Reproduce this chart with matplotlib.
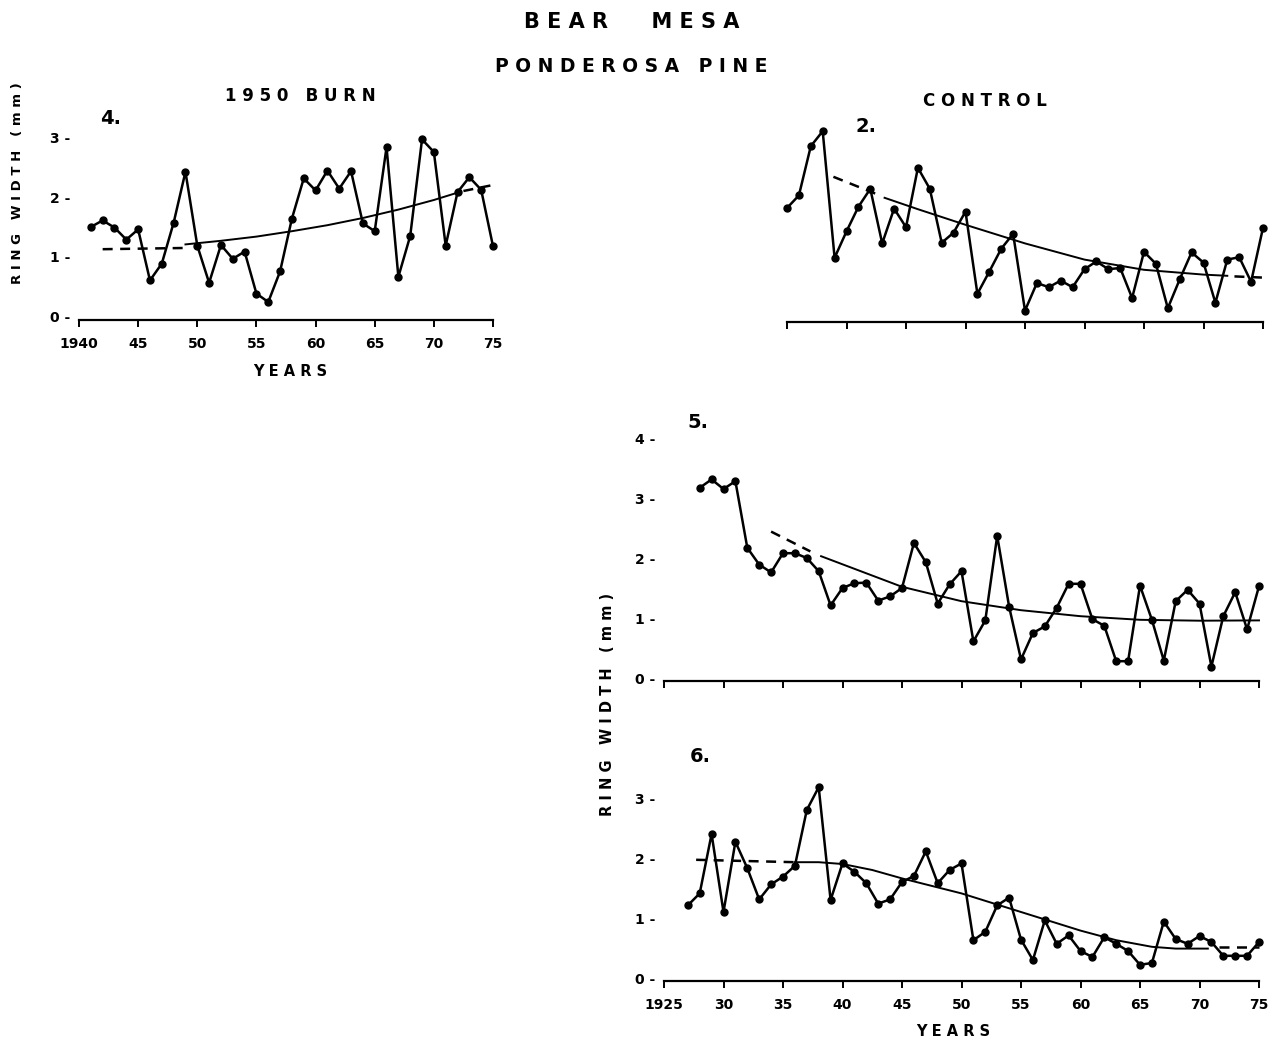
import matplotlib
matplotlib.use('Agg')
import matplotlib.pyplot as plt
import numpy as np

W, H = 1271, 1041

# panel 4: 1950 burn
burn_years = list(range(1941, 1976))
burn_width = [1.50, 1.61, 1.49, 1.29, 1.46, 0.61, 0.89, 1.57, 2.42, 1.19,
              0.57, 1.20, 0.97, 1.09, 0.39, 0.25, 0.76, 1.64, 2.31, 2.11,
              2.44, 2.14, 2.43, 1.56, 1.43, 2.83, 0.67, 1.35, 2.96, 2.75,
              1.19, 2.08, 2.33, 2.12, 1.18]
burn_fit_years = [1949, 1952, 1955, 1958, 1961, 1964, 1967, 1970, 1971.8]
burn_fit = [1.21, 1.27, 1.34, 1.43, 1.53, 1.65, 1.79, 1.95, 2.06]
burn_dash = [([1942, 1948.8], [1.13, 1.15]), ([1972.5, 1975], [2.10, 2.20])]

# panel 2: control
ctrl_years = list(range(1935, 1976))
ctrl_width = [1.85, 2.06, 2.88, 3.13, 1.02, 1.46, 1.87, 2.17, 1.26, 1.84,
              1.53, 2.52, 2.17, 1.27, 1.44, 1.79, 0.42, 0.79, 1.17, 1.42,
              0.14, 0.60, 0.53, 0.64, 0.53, 0.83, 0.96, 0.83, 0.85, 0.35,
              1.12, 0.92, 0.18, 0.66, 1.11, 0.94, 0.27, 0.99, 1.03, 0.62,
              1.52]
ctrl_fit_years = [1943.2, 1946, 1950, 1955, 1960, 1965, 1970, 1972]
ctrl_fit = [2.02, 1.83, 1.57, 1.26, 0.99, 0.82, 0.74, 0.72]
ctrl_dash = [([1938.9, 1942.8], [2.37, 2.06]), ([1972.6, 1975], [0.71, 0.69])]

# panel 5
p5_years = list(range(1928, 1976))
p5_width = [3.17, 3.31, 3.15, 3.28, 2.17, 1.89, 1.76, 2.08, 2.08, 2.00,
            1.78, 1.21, 1.50, 1.58, 1.59, 1.29, 1.36, 1.50, 2.25, 1.93,
            1.24, 1.56, 1.78, 0.61, 0.96, 2.37, 1.19, 0.31, 0.75, 0.86,
            1.17, 1.57, 1.57, 0.98, 0.87, 0.28, 0.28, 1.54, 0.97, 0.29,
            1.28, 1.47, 1.24, 0.19, 1.03, 1.43, 0.81, 1.53]
p5_fit_years = [1938.2, 1941, 1945, 1950, 1955, 1960, 1965, 1970, 1975]
p5_fit = [2.03, 1.82, 1.52, 1.28, 1.13, 1.03, 0.97, 0.955, 0.96]
p5_dash = [([1934, 1937.3], [2.44, 2.11])]

# panel 6
p6_years = list(range(1927, 1976))
p6_width = [1.21, 1.41, 2.40, 1.10, 2.27, 1.83, 1.31, 1.56, 1.69, 1.87,
            2.80, 3.18, 1.30, 1.91, 1.77, 1.58, 1.24, 1.31, 1.60, 1.70,
            2.11, 1.58, 1.80, 1.91, 0.63, 0.77, 1.21, 1.34, 0.64, 0.30,
            0.96, 0.57, 0.71, 0.45, 0.35, 0.68, 0.57, 0.45, 0.22, 0.25,
            0.94, 0.65, 0.57, 0.70, 0.60, 0.37, 0.37, 0.37, 0.60]
p6_fit_years = [1936, 1938, 1940, 1942.5, 1945, 1950, 1955, 1960, 1963,
                1966, 1968, 1970.7]
p6_fit = [1.93, 1.93, 1.90, 1.80, 1.66, 1.41, 1.10, 0.79, 0.63, 0.52, 0.49, 0.49]
p6_dash = [([1927.7, 1936.0], [1.97, 1.93]), ([1971.6, 1975], [0.51, 0.51])]

fig = plt.figure(figsize=(W / 100, H / 100), dpi=100)
plt.rcParams['font.family'] = 'DejaVu Sans'
plt.rcParams['font.weight'] = 'bold'


def panel(x0, x1, ytop, ybot, xlim, ylim):
    ax = fig.add_axes([x0 / W, 1 - ybot / H, (x1 - x0) / W, (ybot - ytop) / H])
    ax.set_xlim(xlim)
    ax.set_ylim(ylim)
    for s in ['top', 'right', 'left']:
        ax.spines[s].set_visible(False)
    ax.spines['bottom'].set_linewidth(1.6)
    ax.patch.set_alpha(0)
    ax.tick_params(axis='x', direction='out', length=5, width=1.4, pad=7,
                   labelsize=10)
    ax.tick_params(axis='y', length=0, pad=6.5, labelsize=10)
    return ax


def draw(ax, years, width, fit_years, fit, dashes):
    ax.plot(years, width, 'k-', lw=1.8, marker='o', ms=5, clip_on=False)
    ax.plot(fit_years, fit, 'k-', lw=1.4, clip_on=False)
    for xs, ys in dashes:
        ax.plot(xs, ys, 'k', lw=1.8, ls=(0, (4, 3)), clip_on=False)


def yticks(ax, vals):
    ax.set_yticks(vals)
    ax.set_yticklabels(['%d -' % v for v in vals], fontweight='bold')


ax4 = panel(79, 493, 131, 320, (1940, 1975), (-0.05, 3.1))
draw(ax4, burn_years, burn_width, burn_fit_years, burn_fit, burn_dash)
ax4.set_xticks(range(1940, 1976, 5))
ax4.set_xticklabels(['1940', '45', '50', '55', '60', '65', '70', '75'],
                    fontweight='bold')
yticks(ax4, [0, 1, 2, 3])

ax2 = panel(787, 1263, 127, 322, (1935, 1975), (-0.05, 3.2))
draw(ax2, ctrl_years, ctrl_width, ctrl_fit_years, ctrl_fit, ctrl_dash)
ax2.set_xticks(range(1935, 1976, 5))
ax2.set_xticklabels([])
ax2.set_yticks([])

ax5 = panel(664, 1259, 432, 681, (1925, 1975), (-0.05, 4.1))
draw(ax5, p5_years, p5_width, p5_fit_years, p5_fit, p5_dash)
ax5.set_xticks(range(1925, 1976, 5))
ax5.set_xticklabels([])
yticks(ax5, [0, 1, 2, 3, 4])

ax6 = panel(664, 1259, 780, 981, (1925, 1975), (-0.05, 3.3))
draw(ax6, p6_years, p6_width, p6_fit_years, p6_fit, p6_dash)
ax6.set_xticks(range(1925, 1976, 5))
ax6.set_xticklabels(['1925', '30', '35', '40', '45', '50', '55', '60', '65',
                     '70', '75'], fontweight='bold')
yticks(ax6, [0, 1, 2, 3])


def label(x, y, s, size, rot=0):
    fig.text(x / W, 1 - y / H, s, fontsize=size, fontweight='bold',
             ha='center', va='center', rotation=rot)


label(632, 22, 'B E A R      M E S A', 15)
label(631, 67, 'P O N D E R O S A   P I N E', 13.5)
label(300, 96, '1 9 5 0   B U R N', 12)
label(985, 101, 'C O N T R O L', 12)
label(111, 119, '4.', 14)
label(866, 127, '2.', 14)
label(698, 423, '5.', 14)
label(700, 756, '6.', 14)
label(18, 183, 'R I N G   W I D T H   ( m m )', 9.5, 90)
label(607, 704, 'R I N G   W I D T H   ( m m )', 10.5, 90)
label(290, 371, 'Y E A R S', 10.5)
label(953, 1032, 'Y E A R S', 10.5)

fig.savefig('out.png', dpi=100)
